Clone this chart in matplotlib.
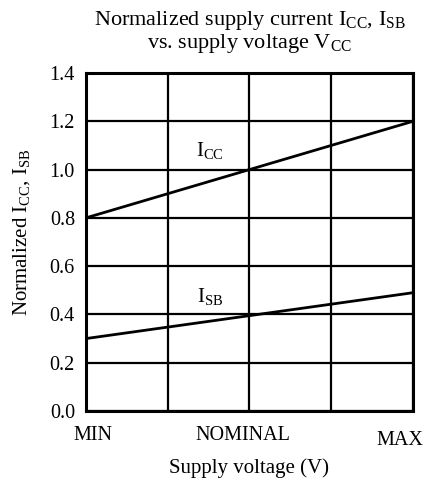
import matplotlib.pyplot as plt
import matplotlib.transforms as mtransforms

plt.rcParams['font.family'] = ['Liberation Serif', 'DejaVu Serif']
plt.rcParams['mathtext.fontset'] = 'custom'
plt.rcParams['mathtext.rm'] = 'Liberation Serif'
plt.rcParams['mathtext.it'] = 'Liberation Serif'

# supply voltage positions (MIN .. MAX mapped to 0..4)
voltage = [0, 4]
icc = [0.8, 1.2]
isb = [0.3, 0.49]
x_ticks = [0, 2, 4]
x_labels = ["MIN", "NOMINAL", "MAX"]
y_ticks = [0.0, 0.2, 0.4, 0.6, 0.8, 1.0, 1.2, 1.4]

fig = plt.figure(figsize=(4.28, 4.83), dpi=100)
ax = fig.add_axes([86/428, 1 - 411/483, (413-86)/428, (411-73)/483])

ax.plot(voltage, icc, color="black", lw=2)
ax.plot(voltage, isb, color="black", lw=2)

ax.set_xlim(0, 4)
ax.set_ylim(0, 1.4)
ax.set_xticks([0, 1, 2, 3, 4])
ax.set_yticks(y_ticks)
ax.set_yticklabels(["%.1f" % v for v in y_ticks])
ax.grid(True, color="black", lw=1.6)
ax.tick_params(length=0, labelsize=14.5, pad=8)
ax.set_xticklabels(["", "", "", "", ""])
for sp in ax.spines.values():
    sp.set_linewidth(2.2)

# x tick labels with small offsets like the original
offsets = [(7, 0), (-7, 0), (-13, -5)]
for xv, lab, (dx, dy) in zip(x_ticks, x_labels, offsets):
    tr = ax.get_xaxis_transform() + mtransforms.ScaledTranslation(dx/100, dy/100, fig.dpi_scale_trans)
    ax.text(xv, -0.045, lab, transform=tr, ha="center", va="top", fontsize=14.5)

ax.text(1.52, 1.08, r"I$_{\mathregular{CC}}$", fontsize=15, ha="center", va="center")
ax.text(1.52, 0.475, r"I$_{\mathregular{SB}}$", fontsize=15, ha="center", va="center")

ax.set_xlabel("Supply voltage (V)", fontsize=15, labelpad=26)
ax.set_ylabel(r"Normalized I$_{\mathregular{CC}}$, I$_{\mathregular{SB}}$", fontsize=15)
ax.yaxis.set_label_coords(-0.165, 0.53)
ax.set_title("Normalized supply current I$_{\\mathregular{CC}}$, I$_{\\mathregular{SB}}$\n"
             "vs. supply voltage V$_{\\mathregular{CC}}$", fontsize=16, pad=18, linespacing=1.0)

plt.savefig("out.png", dpi=100)
